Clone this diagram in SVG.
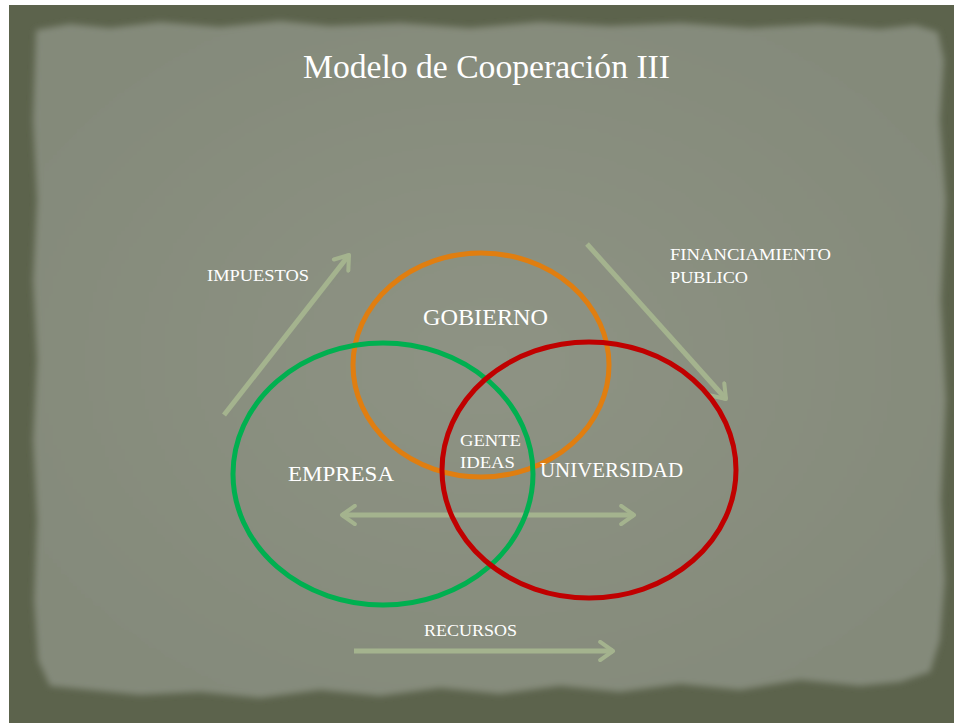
<svg xmlns="http://www.w3.org/2000/svg" width="954" height="723" viewBox="0 0 954 723">
<defs>
<filter id="soft" x="-5%" y="-5%" width="110%" height="110%"><feGaussianBlur stdDeviation="3"/></filter>
<marker id="head" viewBox="0 0 12 12" refX="9" refY="6" markerWidth="4.4" markerHeight="4.4" orient="auto-start-reverse" markerUnits="strokeWidth">
<path d="M2,1 L9,6 L2,11" fill="none" stroke="#a4b38e" stroke-width="2.2" stroke-linecap="round" stroke-linejoin="round"/>
</marker>
<radialGradient id="paper" cx="50%" cy="50%" r="60%">
<stop offset="0" stop-color="#8e9384"/>
<stop offset="1" stop-color="#848a7a"/>
</radialGradient>
</defs>
<style>
.t{fill:#ffffff;font-family:"Liberation Serif","DejaVu Serif",serif}
.ring{fill:none;stroke-width:5}
.arr{fill:none;stroke:#a4b38e;stroke-width:5;stroke-linecap:butt}
</style>
<rect x="0" y="0" width="954" height="723" fill="#ffffff"/>
<rect x="9" y="5" width="945" height="718" fill="#5c634c"/>
<path filter="url(#soft)" fill="url(#paper)" d="M36,30 L70,24 L110,28 L160,22 L220,27 L280,21 L330,26 L400,23 L470,28 L540,22 L610,26 L680,23 L750,28 L820,24 L880,29 L915,25 L938,32 L944,60 L940,120 L946,200 L941,300 L946,400 L941,500 L945,580 L940,640 L930,672 L900,682 L860,686 L800,680 L740,690 L680,684 L620,692 L560,686 L500,694 L440,688 L380,696 L320,690 L260,698 L200,692 L140,695 L90,690 L50,686 L38,660 L34,600 L37,520 L33,440 L37,360 L33,280 L37,200 L33,120 L35,60 Z"/>
<g id="title"><text class="t" x="303" y="78" font-size="33" textLength="367" lengthAdjust="spacingAndGlyphs">Modelo de Cooperación III</text></g>
<g id="connectors">
<line class="arr" x1="224" y1="415" x2="349" y2="255" marker-end="url(#head)"/>
<line class="arr" x1="587" y1="244" x2="726" y2="399" marker-end="url(#head)"/>
<line class="arr" x1="342" y1="515" x2="634" y2="515" marker-start="url(#head)" marker-end="url(#head)"/>
<line class="arr" x1="354" y1="651" x2="613" y2="651" marker-end="url(#head)"/>
</g>
<g id="gobierno"><ellipse class="ring" cx="481" cy="365" rx="128" ry="112" stroke="#e07e10"/></g>
<g id="empresa"><ellipse class="ring" cx="383" cy="474" rx="150" ry="131" stroke="#00b050"/></g>
<g id="universidad"><ellipse class="ring" cx="589" cy="470" rx="147" ry="128" stroke="#c00000"/></g>
<g id="labels">
<text class="t" x="207" y="281" font-size="17" textLength="102" lengthAdjust="spacingAndGlyphs">IMPUESTOS</text>
<text class="t" x="670" y="260" font-size="17" textLength="161" lengthAdjust="spacingAndGlyphs">FINANCIAMIENTO</text>
<text class="t" x="670" y="283" font-size="17" textLength="78" lengthAdjust="spacingAndGlyphs">PUBLICO</text>
<text class="t" x="423" y="325" font-size="23" textLength="125" lengthAdjust="spacingAndGlyphs">GOBIERNO</text>
<text class="t" x="288" y="481" font-size="22" textLength="106" lengthAdjust="spacingAndGlyphs">EMPRESA</text>
<text class="t" x="540" y="477" font-size="20" textLength="143" lengthAdjust="spacingAndGlyphs">UNIVERSIDAD</text>
<text class="t" x="460" y="446" font-size="16" textLength="61" lengthAdjust="spacingAndGlyphs">GENTE</text>
<text class="t" x="460" y="468" font-size="16" textLength="55" lengthAdjust="spacingAndGlyphs">IDEAS</text>
<text class="t" x="424" y="636" font-size="17" textLength="93" lengthAdjust="spacingAndGlyphs">RECURSOS</text>
</g>
</svg>
